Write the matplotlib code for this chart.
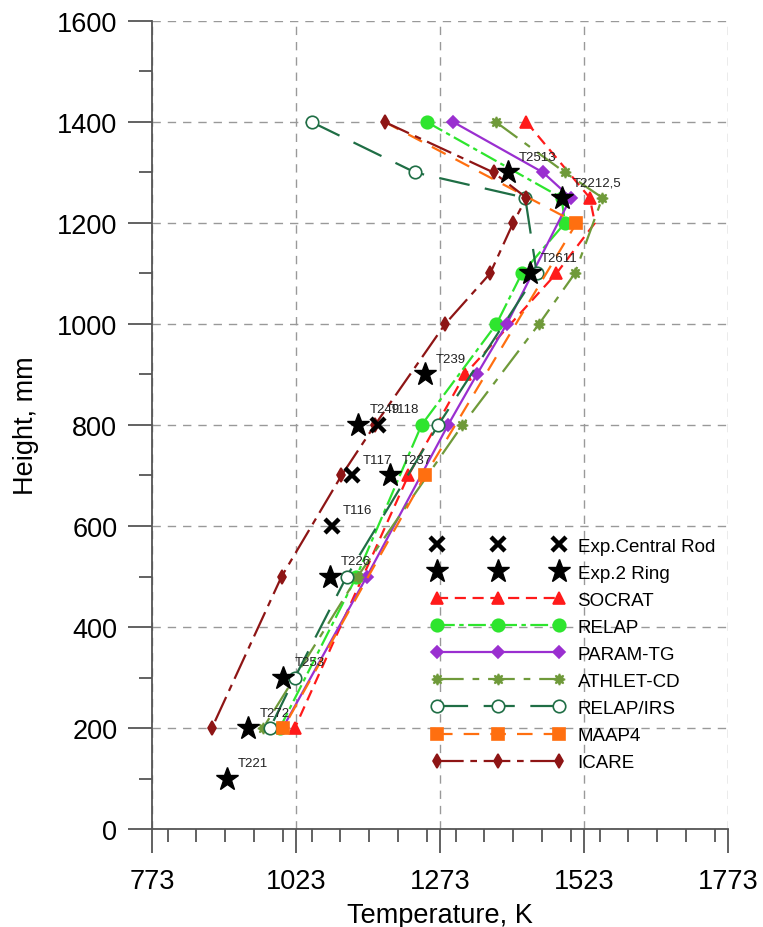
import matplotlib
matplotlib.use("Agg")
import matplotlib.pyplot as plt
from matplotlib.lines import Line2D
from matplotlib.ticker import MultipleLocator

plt.rcParams["font.family"] = ["Liberation Sans", "DejaVu Sans"]

# ── Calculated profiles (height mm, temperature K) ─────────────────────────────
SOCRAT_H = [1400, 1250, 1200, 1100, 900, 700, 200]
SOCRAT_T = [1423, 1533, 1542, 1475, 1316, 1218, 1021]
SOCRAT_MARK = [0, 1, 3, 4, 5, 6]

RELAP_H = [1400, 1250, 1200, 1100, 1000, 800, 500, 200]
RELAP_T = [1250, 1484, 1490, 1415, 1371, 1241, 1128, 995]

PARAM_H = [1400, 1300, 1250, 1000, 900, 800, 500, 200]
PARAM_T = [1296, 1452, 1500, 1389, 1337, 1287, 1146, 1000]

ATHLET_H = [1400, 1300, 1250, 1100, 1000, 800, 500, 200]
ATHLET_T = [1370, 1490, 1555, 1507, 1445, 1312, 1130, 966]

IRS_H = [1400, 1300, 1250, 1100, 800, 500, 300, 200]
IRS_T = [1050, 1230, 1421, 1441, 1270, 1111, 1021, 978]

MAAP_H = [1400, 1200, 700, 200]
MAAP_T = [1177, 1510, 1247, 1001]
MAAP_MARK = [1, 2, 3]

ICARE_H = [1400, 1300, 1250, 1200, 1100, 1000, 800, 700, 500, 200]
ICARE_T = [1177, 1366, 1423, 1400, 1360, 1282, 1160, 1102, 998, 877]

# ── Experimental thermocouples ─────────────────────────────────────────────────
RING_H = [1300, 1250, 1100, 900, 800, 700, 500, 300, 200, 100]
RING_T = [1391, 1484, 1429, 1247, 1131, 1187, 1082, 1001, 940, 903]
RING_LBL = ["T2513", "T2212,5", "T2611", "T239", "T249", "T237",
            "T226", "T253", "T272", "T221"]

ROD_H = [800, 700, 600]
ROD_T = [1166, 1120, 1085]
ROD_LBL = ["T118", "T117", "T116"]

X_TICKS = [773, 1023, 1273, 1523, 1773]

# colour, dash pattern, marker, marker size, face colour
STYLES = {
    "SOCRAT":    ("#ff1a1a", (0, (5, 3)), "^", 8, None),
    "RELAP":     ("#2ee52e", (0, (8, 2, 2, 2)), "o", 9, None),
    "PARAM-TG":  ("#9a2fd0", "-", "D", 6, None),
    "ATHLET-CD": ("#6f9a3a", (0, (12, 4, 3, 4)), (8, 1, 0), 8, None),
    "RELAP/IRS": ("#1f6e45", (0, (14, 7)), "o", 9, "white"),
    "MAAP4":     ("#ff6f10", (0, (7, 5)), "s", 9, None),
    "ICARE":     ("#8e1515", (0, (12, 3, 3, 3)), "d", 7, None),
}

SERIES = [
    ("SOCRAT", SOCRAT_T, SOCRAT_H, SOCRAT_MARK),
    ("RELAP", RELAP_T, RELAP_H, None),
    ("PARAM-TG", PARAM_T, PARAM_H, None),
    ("ATHLET-CD", ATHLET_T, ATHLET_H, None),
    ("RELAP/IRS", IRS_T, IRS_H, None),
    ("MAAP4", MAAP_T, MAAP_H, MAAP_MARK),
    ("ICARE", ICARE_T, ICARE_H, None),
]

fig = plt.figure(figsize=(7.63, 9.28), dpi=100)
ax = fig.add_axes([0.1992, 0.1056, 0.7549, 0.8707])

handles = [
    Line2D([], [], ls="none", marker="x", ms=10, mew=3.2, color="black",
           label="Exp.Central Rod"),
    Line2D([], [], ls="none", marker="*", ms=17, color="black", label="Exp.2 Ring"),
]

for name, temps, heights, mark in SERIES:
    color, ls, marker, ms, mfc = STYLES[name]
    kw = dict(color=color, ls=ls, lw=1.6, marker=marker, ms=ms,
              mfc=mfc if mfc else color, mec=color, mew=1.2, zorder=3)
    ax.plot(temps, heights, markevery=mark, **kw)
    handles.append(Line2D([], [], label=name, **kw))

ax.plot(ROD_T, ROD_H, ls="none", marker="x", ms=10, mew=3.2, color="black", zorder=5)
ax.plot(RING_T, RING_H, ls="none", marker="*", ms=17, color="black", zorder=5)

for t, h, lbl in zip(RING_T + ROD_T, RING_H + ROD_H, RING_LBL + ROD_LBL):
    ax.annotate(lbl, (t, h), xytext=(8, 9), textcoords="offset points",
                fontsize=9.5, color="#222222", zorder=6)

ax.set_xlim(773, 1773)
ax.set_ylim(0, 1600)
ax.set_xticks(X_TICKS)
ax.xaxis.set_minor_locator(MultipleLocator(50))
ax.yaxis.set_major_locator(MultipleLocator(200))
ax.yaxis.set_minor_locator(MultipleLocator(100))

for side in ("top", "right"):
    ax.spines[side].set_visible(False)
for side in ("left", "bottom"):
    ax.spines[side].set_color("#555555")
    ax.spines[side].set_linewidth(1.3)

ax.tick_params(which="major", direction="out", length=17, width=1.3,
               color="#555555", labelsize=19.5, pad=8)
ax.tick_params(axis="x", which="major", pad=11)
ax.tick_params(which="minor", direction="out", length=9.5, width=1.3,
               color="#555555")
ax.grid(True, which="major", color="#999999", ls=(0, (6, 5)), lw=1.0)
ax.set_axisbelow(True)

ax.set_xlabel("Temperature, K", fontsize=19.5, labelpad=6)
ax.set_ylabel("Height, mm", fontsize=19.5, labelpad=13)

ax.legend(handles=handles, loc="upper left", bbox_to_anchor=(0.472, 0.37),
          frameon=False, numpoints=3, handlelength=7.1, fontsize=13.5,
          labelspacing=0.53, handletextpad=0.7, borderaxespad=0)

fig.savefig("out.png", dpi=100, facecolor="white")
